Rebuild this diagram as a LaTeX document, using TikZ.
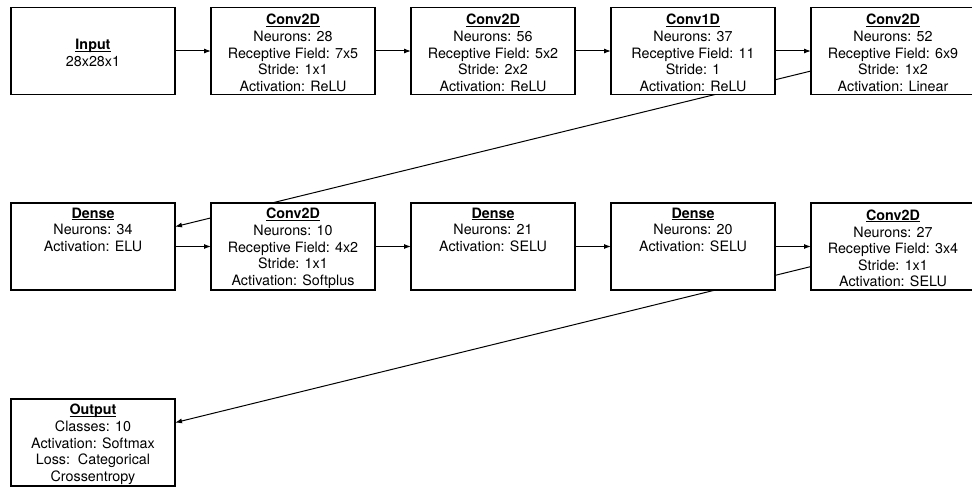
\documentclass[tikz,border=0pt]{standalone}
\usepackage{fontspec}
\setmainfont{TeX Gyre Heros}
\usetikzlibrary{arrows.meta,backgrounds}
% bold heading with a thin rule just under its baseline; the strut gives the
% block a little extra room on top
\newcommand\layertitle[1]{\setbox0=\hbox{\textbf{#1}}\rule{0pt}{14.5pt}\rlap{\rule[-2pt]{\wd0}{1pt}}\box0}
\begin{document}
\begin{tikzpicture}[x=1pt,y=-1pt,
  layer/.style={draw=black, fill=white, line width=1.2pt,
    minimum width=164pt, minimum height=87pt, inner sep=0pt, outer sep=0pt,
    align=center, font=\fontsize{14.3}{16.6}\selectfont},
  flow/.style={-{Latex[length=7pt,width=5pt]}, line width=1pt}]
\useasboundingbox (0,0) rectangle (972,487);

% first row
\node[layer] (in) at (93,51) {\layertitle{Input}\\28x28x1};
\node[layer] (c1) at (293,51) {\layertitle{Conv2D}\\Neurons: 28\\Receptive Field: 7x5\\Stride: 1x1\\Activation: ReLU};
\node[layer] (c2) at (493,51) {\layertitle{Conv2D}\\Neurons: 56\\Receptive Field: 5x2\\Stride: 2x2\\Activation: ReLU};
\node[layer] (c3) at (693,51) {\layertitle{Conv1D}\\Neurons: 37\\Receptive Field: 11\\Stride: 1\\Activation: ReLU};
\node[layer] (c4) at (893,51) {\layertitle{Conv2D}\\Neurons: 52\\Receptive Field: 6x9\\Stride: 1x2\\Activation: Linear};

% second row
\node[layer] (d1) at (93,246.5) {\layertitle{Dense}\\Neurons: 34\\Activation: ELU\\\strut\\\strut};
\node[layer] (c5) at (293,246.5) {\layertitle{Conv2D}\\Neurons: 10\\Receptive Field: 4x2\\Stride: 1x1\\Activation: Softplus};
\node[layer] (d2) at (493,246.5) {\layertitle{Dense}\\Neurons: 21\\Activation: SELU\\\strut\\\strut};
\node[layer] (d3) at (693,246.5) {\layertitle{Dense}\\Neurons: 20\\Activation: SELU\\\strut\\\strut};
\node[layer] (c6) at (893,246.5) {\layertitle{Conv2D}\\Neurons: 27\\Receptive Field: 3x4\\Stride: 1x1\\Activation: SELU};

% output
\node[layer] (out) at (93,442.5) {\layertitle{Output}\\Classes: 10\\Activation: Softmax\\Loss:\ \ Categorical\\Crossentropy};

% connectors run behind the boxes
\begin{scope}[on background layer]
\draw[flow] (in) -- (c1);
\draw[flow] (c1) -- (c2);
\draw[flow] (c2) -- (c3);
\draw[flow] (c3) -- (c4);
\draw[flow] (c4) -- (d1);
\draw[flow] (d1) -- (c5);
\draw[flow] (c5) -- (d2);
\draw[flow] (d2) -- (d3);
\draw[flow] (d3) -- (c6);
\draw[flow] (c6) -- (out);
\end{scope}
\end{tikzpicture}
\end{document}
